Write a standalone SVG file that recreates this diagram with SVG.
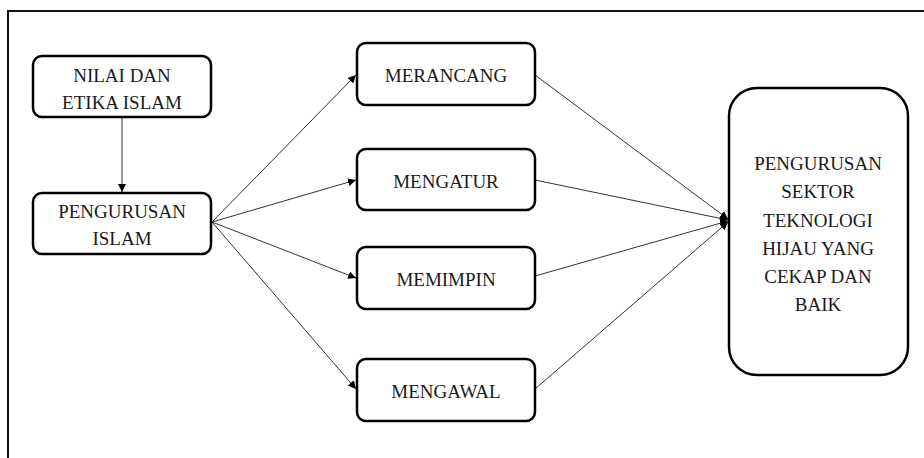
<svg xmlns="http://www.w3.org/2000/svg" width="924" height="458" viewBox="0 0 924 458">
<style>
.box{fill:#fff;stroke:#000;stroke-width:2.5}
.t{font-family:'Liberation Serif',serif;font-size:19px;fill:#1a1a1a;text-anchor:middle}
.c{stroke:#333;stroke-width:1;fill:none;marker-end:url(#ah)}
</style>
<defs>
<marker id="ah" viewBox="0 0 10 10" refX="10" refY="5" markerWidth="8" markerHeight="8" markerUnits="userSpaceOnUse" orient="auto">
<path d="M0,0 L10,5 L0,10 z" fill="#000"/>
</marker>
</defs>
<rect width="924" height="458" fill="#fff"/>
<path id="frame" d="M8,458 V11 H924" fill="none" stroke="#111" stroke-width="2"/>
<g id="connectors">
<line class="c" x1="122" y1="117" x2="122" y2="192"/>
<line class="c" x1="212" y1="222" x2="356" y2="75"/>
<line class="c" x1="212" y1="222" x2="356" y2="180"/>
<line class="c" x1="212" y1="222" x2="356" y2="278"/>
<line class="c" x1="212" y1="222" x2="356" y2="389"/>
<line class="c" x1="535" y1="75" x2="728" y2="219"/>
<line class="c" x1="535" y1="180" x2="728" y2="220"/>
<line class="c" x1="535" y1="276" x2="728" y2="221"/>
<line class="c" x1="535" y1="389" x2="728" y2="222"/>
</g>
<g id="nilai">
<rect class="box" x="33" y="56" width="178" height="61" rx="9"/>
<text class="t" x="122" y="82">NILAI DAN</text>
<text class="t" x="122" y="109">ETIKA ISLAM</text>
</g>
<g id="pengurusan-islam">
<rect class="box" x="33" y="193" width="178" height="61" rx="9"/>
<text class="t" x="122" y="218">PENGURUSAN</text>
<text class="t" x="122" y="245">ISLAM</text>
</g>
<g id="merancang">
<rect class="box" x="357" y="43" width="178" height="62" rx="9"/>
<text class="t" x="446" y="82">MERANCANG</text>
</g>
<g id="mengatur">
<rect class="box" x="357" y="149" width="178" height="61" rx="9"/>
<text class="t" x="446" y="188">MENGATUR</text>
</g>
<g id="memimpin">
<rect class="box" x="357" y="247" width="178" height="62" rx="9"/>
<text class="t" x="446" y="286">MEMIMPIN</text>
</g>
<g id="mengawal">
<rect class="box" x="357" y="359" width="178" height="62" rx="9"/>
<text class="t" x="446" y="398">MENGAWAL</text>
</g>
<g id="hasil">
<rect class="box" x="729" y="88" width="179" height="287" rx="28"/>
<text class="t" x="818" y="170">PENGURUSAN</text>
<text class="t" x="818" y="198">SEKTOR</text>
<text class="t" x="818" y="227">TEKNOLOGI</text>
<text class="t" x="818" y="255">HIJAU YANG</text>
<text class="t" x="818" y="283">CEKAP DAN</text>
<text class="t" x="818" y="311">BAIK</text>
</g>
</svg>
